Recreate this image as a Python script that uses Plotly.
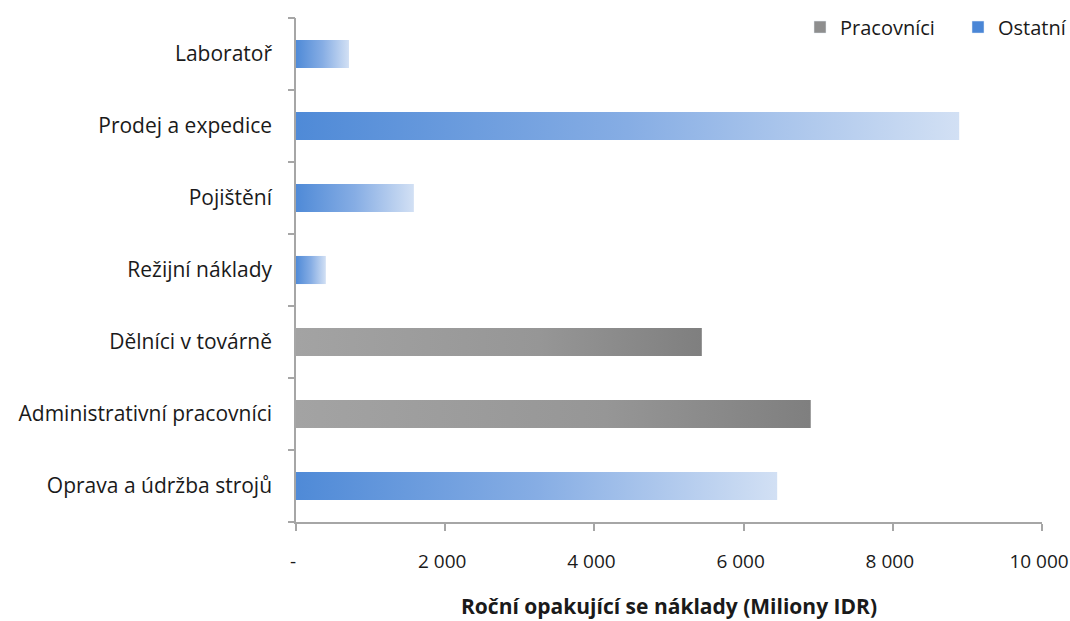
import plotly.graph_objects as go

categories = ["Oprava a údržba strojů", "Administrativní pracovníci", "Dělníci v továrně",
              "Režijní náklady", "Pojištění", "Prodej a expedice", "Laboratoř"]
values = [6450, 6900, 5440, 400, 1580, 8890, 710]
groups = ["Ostatní", "Pracovníci", "Pracovníci", "Ostatní", "Ostatní", "Ostatní", "Ostatní"]
x_tickvals = [0, 2000, 4000, 6000, 8000, 10000]
x_ticktext = ["-", "2 000", "4 000", "6 000", "8 000", "10 000"]

FONT = "Open Sans"
FS = 21
BAR_W = 0.39
scales = {
    "Ostatní": [[0, "#4f8ad7"], [0.5, "#86ade4"], [1, "#d2e0f4"]],
    "Pracovníci": [[0, "#a3a3a3"], [0.6, "#969696"], [1, "#7f7f7f"]],
}
legend_colors = {"Pracovníci": "#8e8e8e", "Ostatní": "#4a86d6"}

fig = go.Figure()
for i, (cat, v, g) in enumerate(zip(categories, values, groups)):
    h = BAR_W / 2
    fig.add_trace(go.Scatter(
        x=[0, v, v, 0, 0], y=[i - h, i - h, i + h, i + h, i - h],
        mode="lines", line=dict(width=0), fill="toself",
        fillgradient=dict(type="horizontal", colorscale=scales[g]),
        showlegend=False, hoverinfo="skip", name=cat,
    ))

for g in ["Pracovníci", "Ostatní"]:
    fig.add_trace(go.Bar(x=[None], y=[None], orientation="h", name=g,
                         marker=dict(color=legend_colors[g]), showlegend=True))

fig.update_layout(
    width=1070, height=621,
    margin=dict(l=296, r=15, t=18, b=99, autoexpand=False),
    paper_bgcolor="white", plot_bgcolor="white",
    font=dict(family=FONT, size=FS, color="#1a1a1a"),
    showlegend=True,
    legend=dict(orientation="h", x=(800 - 296) / 759, xanchor="left", y=0.982, yanchor="middle",
                font=dict(size=20), itemwidth=30, entrywidth=113,
                bgcolor="rgba(0,0,0,0)"),
    xaxis=dict(domain=[0, 746 / 759], range=[0, 10000], tickvals=x_tickvals, ticktext=x_ticktext,
               showgrid=False, zeroline=False, showline=True, linecolor="#a6a6a6",
               linewidth=1.5, ticks="outside", ticklen=7, tickcolor="#a6a6a6",
               tickwidth=1.5, ticklabelstandoff=14, ticklabeloverflow="allow",
               ticklabelshift=-3, tickfont=dict(size=19),
               automargin=False,
               title=dict(text="<b>Roční opakující se náklady (Miliony IDR)</b>",
                          font=dict(size=FS), standoff=27)),
    yaxis=dict(range=[-0.5, len(categories) - 0.5], tickvals=list(range(len(categories))),
               ticktext=categories, showgrid=False, zeroline=False, showline=True,
               linecolor="#a6a6a6", linewidth=1.5, ticks="", ticklabelstandoff=18,
               automargin=False, fixedrange=True),
    yaxis2=dict(range=[-0.5, len(categories) - 0.5], overlaying="y", side="left",
                tickvals=[k - 0.5 for k in range(len(categories) + 1)],
                showticklabels=False, ticks="outside", ticklen=7, tickcolor="#a6a6a6",
                tickwidth=1.5, showgrid=False, zeroline=False, showline=False,
                automargin=False),
)
# dummy trace to activate yaxis2
fig.add_trace(go.Scatter(x=[None], y=[None], yaxis="y2", showlegend=False, hoverinfo="skip"))

fig.write_html("out.html")
